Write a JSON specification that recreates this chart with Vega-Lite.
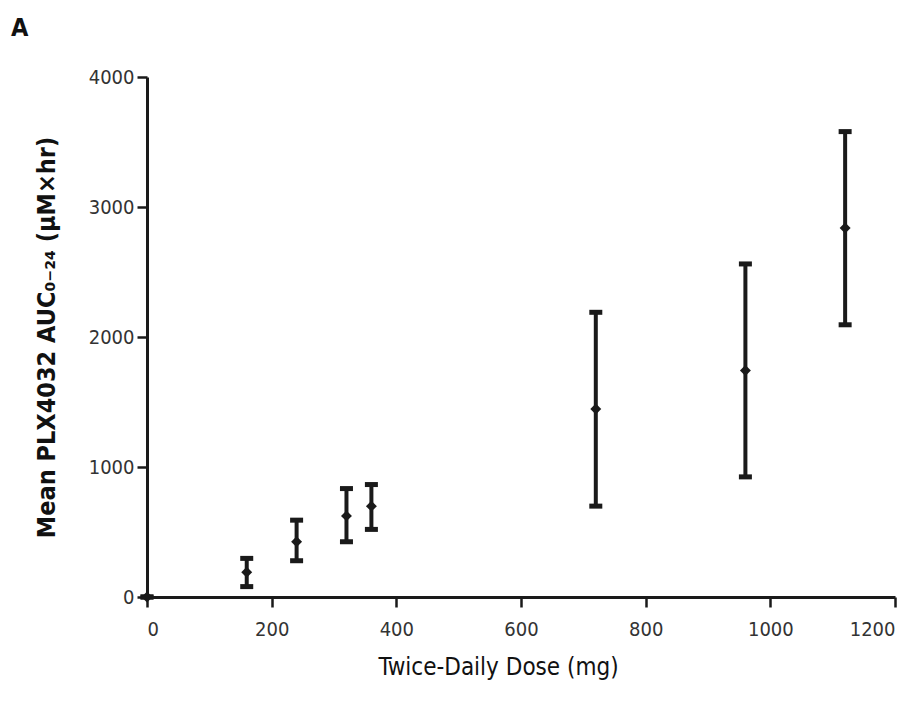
{
  "$schema": "https://vega.github.io/schema/vega-lite/v6.json",
  "width": 748,
  "height": 520,
  "autosize": {"type": "none"},
  "padding": {"left": 147, "top": 77, "right": 27, "bottom": 107},
  "background": "white",
  "title": {"text": "A", "anchor": "start", "frame": "group", "dx": -136, "dy": -22, "fontSize": 25, "fontWeight": "bold", "font": "DejaVu Sans Condensed, sans-serif", "color": "#111"},
  "config": {
    "view": {"stroke": null},
    "axis": {
      "grid": false,
      "domainColor": "#1a1a1a",
      "domainWidth": 3,
      "tickColor": "#1a1a1a",
      "tickWidth": 2.5,
      "tickSize": 10,
      "labelFont": "DejaVu Sans Condensed, sans-serif",
      "labelFontSize": 20,
      "labelColor": "#333",
      "titleFont": "DejaVu Sans Condensed, sans-serif",
      "titleColor": "#222"
    }
  },
  "data": {"values": [
    {"dose": 0, "mean": 0, "lo": 0, "hi": 0},
    {"dose": 160, "mean": 190, "lo": 80, "hi": 297},
    {"dose": 240, "mean": 425, "lo": 279, "hi": 591},
    {"dose": 320, "mean": 624, "lo": 425, "hi": 834},
    {"dose": 360, "mean": 699, "lo": 520, "hi": 865},
    {"dose": 720, "mean": 1446, "lo": 699, "hi": 2190},
    {"dose": 960, "mean": 1743, "lo": 924, "hi": 2562},
    {"dose": 1120, "mean": 2838, "lo": 2094, "hi": 3580}
  ]},
  "encoding": {
    "x": {"field": "dose", "type": "quantitative", "scale": {"domain": [0, 1200], "nice": false},
      "axis": {"values": [0, 200, 400, 600, 800, 1000, 1200], "format": "d", "labelPadding": 12, "title": "Twice-Daily Dose (mg)", "titleFontSize": 24, "titleFontWeight": "normal", "titleColor": "#111", "titlePadding": 16, "titleX": 351}}
  },
  "layer": [
    {
      "mark": {"type": "rule", "color": "#1a1a1a", "strokeWidth": 4},
      "encoding": {
        "y": {"field": "lo", "type": "quantitative", "scale": {"domain": [0, 4000], "nice": false},
          "axis": {"values": [0, 1000, 2000, 3000, 4000], "format": "d", "labelPadding": 3, "title": "Mean PLX4032 AUC₀₋₂₄ (µM×hr)", "titleFontSize": 25, "titleFontWeight": "bold", "titleColor": "#111", "titlePadding": 29}},
        "y2": {"field": "hi"}
      }
    },
    {
      "mark": {"type": "tick", "orient": "horizontal", "color": "#1a1a1a", "size": 13, "thickness": 5, "opacity": 1},
      "encoding": {"y": {"field": "lo", "type": "quantitative"}}
    },
    {
      "mark": {"type": "tick", "orient": "horizontal", "color": "#1a1a1a", "size": 13, "thickness": 5, "opacity": 1},
      "encoding": {"y": {"field": "hi", "type": "quantitative"}}
    },
    {
      "mark": {"type": "point", "shape": "diamond", "filled": true, "color": "#1a1a1a", "size": 120, "opacity": 1},
      "encoding": {"y": {"field": "mean", "type": "quantitative"}}
    }
  ]
}
